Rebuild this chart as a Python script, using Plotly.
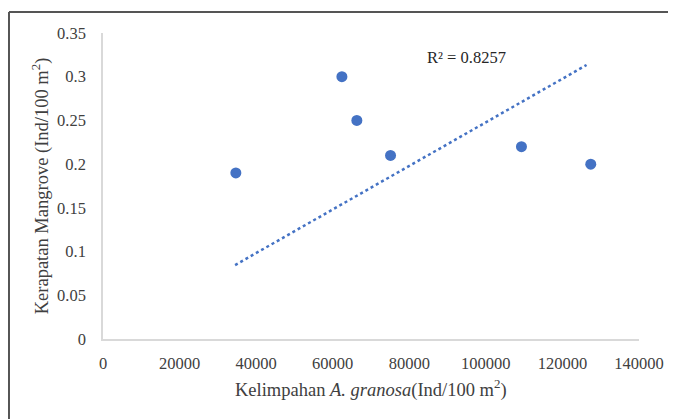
import plotly.graph_objects as go

# Data
kelimpahan = [34700, 62400, 66300, 75100, 109300, 127400]
kerapatan = [0.19, 0.30, 0.25, 0.21, 0.22, 0.20]
trend_x = [34500, 126300]
trend_y = [0.0846, 0.3134]
r2_label = "R² = 0.8257"
x_ticks = [0, 20000, 40000, 60000, 80000, 100000, 120000, 140000]
y_ticks = [0, 0.05, 0.1, 0.15, 0.2, 0.25, 0.3, 0.35]
y_tick_text = ["0", "0.05", "0.1", "0.15", "0.2", "0.25", "0.3", "0.35"]

BLUE = "#4472C4"
FONT = "Liberation Serif"
TXT = "#404040"

fig = go.Figure()
fig.add_trace(go.Scatter(x=trend_x, y=trend_y, mode="lines",
                         line=dict(color=BLUE, width=2.5, dash="dot"),
                         hoverinfo="skip", showlegend=False))
fig.add_trace(go.Scatter(x=kelimpahan, y=kerapatan, mode="markers",
                         marker=dict(color=BLUE, size=11), showlegend=False))

# page body has an 8px default margin; figure is sized so it ends at the window edge
fig.update_layout(
    width=668, height=411,
    margin=dict(l=95, r=37, t=25, b=80),
    paper_bgcolor="white", plot_bgcolor="white",
    font=dict(family=FONT, size=16, color=TXT),
    xaxis=dict(range=[0, 140000], tickvals=x_ticks, ticktext=[str(v) for v in x_ticks],
               showgrid=False, zeroline=False, showline=True, linecolor="#d9d9d9", linewidth=1.5,
               ticks="outside", ticklen=8, tickcolor="rgba(0,0,0,0)",
               tickfont=dict(family=FONT, size=16.5, color=TXT)),
    yaxis=dict(range=[0, 0.35], tickvals=y_ticks, ticktext=y_tick_text,
               showgrid=False, zeroline=False, showline=True, linecolor="#d9d9d9", linewidth=1.5,
               ticks="outside", ticklen=12, tickcolor="rgba(0,0,0,0)",
               tickfont=dict(family=FONT, size=16.5, color=TXT)),
    shapes=[
        dict(type="line", xref="paper", yref="paper", x0=-0.1754, x1=1.2, y0=1.0686, y1=1.0686,
             line=dict(color="#555555", width=2)),
        dict(type="line", xref="paper", yref="paper", x0=-0.1754, x1=-0.1754, y0=1.0686, y1=-0.3,
             line=dict(color="#555555", width=2)),
    ],
    annotations=[
        dict(text=r2_label, x=95000, y=0.322, xref="x", yref="y", showarrow=False,
             font=dict(family=FONT, size=16.5, color="#262626")),
        dict(text="Kelimpahan <i>A. granosa</i>(Ind/100 m<sup>2</sup>)", x=0.5, y=-0.162,
             xref="paper", yref="paper", showarrow=False, yanchor="middle",
             font=dict(family=FONT, size=18.5, color=TXT)),
        dict(text="Kerapatan Mangrove (Ind/100 m<sup>2</sup>)", x=-0.117, y=0.5,
             xref="paper", yref="paper", showarrow=False, textangle=-90, xanchor="center",
             font=dict(family=FONT, size=18.5, color=TXT)),
    ],
)
fig.write_html("out.html")
